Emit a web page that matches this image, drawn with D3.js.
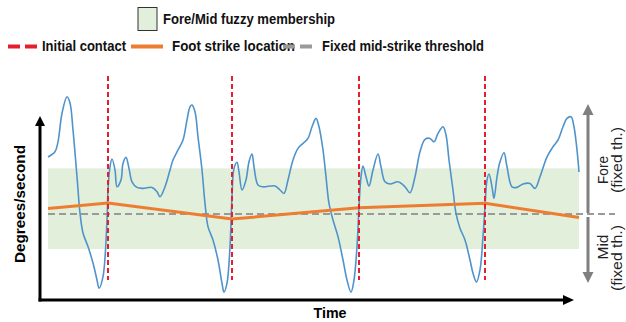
<!DOCTYPE html>
<html>
<head>
<meta charset="utf-8">
<script src="https://cdn.jsdelivr.net/npm/d3@7/dist/d3.min.js"></script>
<style>
  html, body { margin: 0; padding: 0; background: #fff; }
  svg { display: block; font-family: "Liberation Sans", Arial, sans-serif; }
</style>
</head>
<body>
<svg id="chart" width="626" height="322"></svg>
<script>
// Angular velocity trace (time in s, degrees/second)
const signalTime = [0.00,0.07,0.10,0.14,0.19,0.22,0.25,0.29,0.32,0.35,0.40,0.45,0.49,0.51,0.55,0.59,0.60,0.62,0.64,0.67,0.69,0.73,0.75,0.78,0.81,0.84,0.89,0.95,1.04,1.09,1.12,1.17,1.22,1.25,1.30,1.35,1.39,1.42,1.44,1.47,1.50,1.54,1.57,1.60,1.65,1.70,1.74,1.76,1.79,1.82,1.84,1.86,1.89,1.91,1.94,1.98,2.01,2.04,2.06,2.10,2.15,2.27,2.32,2.36,2.40,2.45,2.50,2.55,2.60,2.64,2.68,2.71,2.75,2.78,2.81,2.85,2.90,2.95,2.99,3.03,3.06,3.09,3.11,3.13,3.15,3.18,3.21,3.25,3.30,3.33,3.37,3.42,3.50,3.57,3.62,3.67,3.72,3.77,3.82,3.86,3.90,3.95,3.98,4.01,4.05,4.08,4.12,4.17,4.22,4.25,4.285,4.32,4.35,4.37,4.39,4.41,4.44,4.46,4.49,4.52,4.56,4.59,4.64,4.69,4.75,4.82,4.87,4.92,4.99,5.05,5.10,5.15,5.19,5.23,5.26,5.29,5.31];
const signalValue = [285,311,361,503,586,555,420,186,5,-95,-163,-245,-330,-371,-313,-30,120,236,275,220,136,170,253,283,228,161,133,128,133,111,86,136,220,270,320,370,470,536,545,511,386,220,53,-63,-130,-230,-346,-391,-346,-163,86,228,258,211,120,170,261,300,236,145,136,140,120,103,170,270,328,353,378,436,478,436,320,186,53,-30,-113,-230,-330,-391,-330,-163,36,186,240,186,140,220,300,236,161,150,161,136,106,186,311,373,378,361,403,436,395,270,120,3,-71,-130,-230,-296,-340,-280,-113,36,170,200,136,78,186,261,306,236,136,133,150,153,128,186,286,336,370,436,478,486,436,320,210];

// Initial contact events (s)
const contactTimes = [0.60, 1.84, 3.11, 4.37];

// Foot strike location, evaluated at the trace ends and at each contact
const strikeTime = [0.00, 0.60, 1.84, 3.11, 4.37, 5.31];
const strikeValue = [28, 55, -25, 31, 54, -18];

// Fixed mid-strike threshold and the fuzzy Fore/Mid band
const thresholdValue = [0];
const bandLow = [-175];
const bandHigh = [228];

const legendLabels = ["Fore/Mid fuzzy membership", "Initial contact", "Foot strike location", "Fixed mid-strike threshold"];
const axisLabels = ["Degrees/second", "Time"];
const sideLabels = ["Fore", "Mid", "(fixed th.)"];

const colors = { signal: "#4f93cc", contact: "#e5202e", strike: "#ed7d31", threshold: "#9a9a9a", band: "#e2efda", axis: "#000", side: "#7f7f7f" };

const svg = d3.select("#chart");
const x = d3.scaleLinear().domain([0, 5.31]).range([48, 579]);
const y = d3.scaleLinear().domain([-430, 570]).range([300, 100]);

// Fuzzy membership band
svg.append("rect")
  .attr("x", x(0)).attr("width", x(5.31) - x(0))
  .attr("y", y(bandHigh[0])).attr("height", y(bandLow[0]) - y(bandHigh[0]))
  .attr("fill", colors.band);

// Threshold
svg.append("line")
  .attr("x1", x(0)).attr("x2", x(5.67))
  .attr("y1", y(thresholdValue[0])).attr("y2", y(thresholdValue[0]))
  .attr("stroke", colors.threshold).attr("stroke-width", 2).attr("stroke-dasharray", "7,4");

// Signal trace
const signal = signalTime.map((t, i) => [t, signalValue[i]]);
svg.append("path")
  .datum(signal)
  .attr("fill", "none").attr("stroke", colors.signal).attr("stroke-width", 1.6)
  .attr("d", d3.line().x(d => x(d[0])).y(d => y(d[1])).curve(d3.curveCatmullRom.alpha(0.5)));

// Foot strike location
const strike = strikeTime.map((t, i) => [t, strikeValue[i]]);
svg.append("path")
  .datum(strike)
  .attr("fill", "none").attr("stroke", colors.strike).attr("stroke-width", 3)
  .attr("d", d3.line().x(d => x(d[0])).y(d => y(d[1])));

// Initial contacts
svg.selectAll(".contact").data(contactTimes).join("line")
  .attr("class", "contact")
  .attr("x1", d => x(d)).attr("x2", d => x(d))
  .attr("y1", y(690)).attr("y2", y(-330))
  .attr("stroke", colors.contact).attr("stroke-width", 2).attr("stroke-dasharray", "5,3");

// Axes with arrowheads
const ax0 = 40, ay0 = 300;
svg.append("line").attr("x1", ax0).attr("x2", ax0).attr("y1", ay0 + 1.5).attr("y2", 124)
  .attr("stroke", colors.axis).attr("stroke-width", 3);
svg.append("path").attr("d", `M${ax0 - 5},126 L${ax0},116 L${ax0 + 5},126 Z`).attr("fill", colors.axis);
svg.append("line").attr("x1", ax0 - 1.5).attr("x2", 565).attr("y1", ay0).attr("y2", ay0)
  .attr("stroke", colors.axis).attr("stroke-width", 3);
svg.append("path").attr("d", `M563,${ay0 - 5} L574,${ay0} L563,${ay0 + 5} Z`).attr("fill", colors.axis);

svg.append("text")
  .attr("transform", "translate(25,204) rotate(-90)")
  .attr("text-anchor", "middle")
  .attr("font-size", 14.5).attr("font-weight", "bold")
  .attr("textLength", 118).attr("lengthAdjust", "spacingAndGlyphs")
  .text(axisLabels[0]);
svg.append("text")
  .attr("x", 330).attr("y", 318)
  .attr("text-anchor", "middle")
  .attr("font-size", 14.5).attr("font-weight", "bold")
  .attr("textLength", 33).attr("lengthAdjust", "spacingAndGlyphs")
  .text(axisLabels[1]);

// Fore / Mid side arrows
const sx = x(5.40);
const yT = y(thresholdValue[0]);
svg.append("line").attr("x1", sx).attr("x2", sx).attr("y1", yT - 1).attr("y2", 113)
  .attr("stroke", colors.side).attr("stroke-width", 3);
svg.append("path").attr("d", `M${sx - 5.5},115 L${sx},104 L${sx + 5.5},115 Z`).attr("fill", colors.side);
svg.append("line").attr("x1", sx).attr("x2", sx).attr("y1", yT + 3).attr("y2", 274)
  .attr("stroke", colors.side).attr("stroke-width", 3);
svg.append("path").attr("d", `M${sx - 5.5},272 L${sx},283 L${sx + 5.5},272 Z`).attr("fill", colors.side);

const sideText = (label, cx, cy, len) => svg.append("text")
  .attr("transform", `translate(${cx},${cy}) rotate(-90)`)
  .attr("text-anchor", "middle")
  .attr("font-size", 14).attr("fill", "#222")
  .attr("textLength", len).attr("lengthAdjust", "spacingAndGlyphs")
  .text(label);
sideText(sideLabels[0], 608, 170, 28);
sideText(sideLabels[2], 622, 160, 66);
sideText(sideLabels[1], 608, 247, 25);
sideText(sideLabels[2], 622, 258, 66);

// Legend
const legend = svg.append("g").attr("font-size", 14.5).attr("font-weight", "bold").attr("fill", "#111");
legend.append("rect").attr("x", 138).attr("y", 7.5).attr("width", 19).attr("height", 23)
  .attr("fill", colors.band).attr("stroke", "#333").attr("stroke-width", 1);
legend.append("text").attr("x", 163).attr("y", 24)
  .attr("textLength", 172).attr("lengthAdjust", "spacingAndGlyphs").text(legendLabels[0]);

legend.append("line").attr("x1", 8).attr("x2", 37).attr("y1", 46.5).attr("y2", 46.5)
  .attr("stroke", colors.contact).attr("stroke-width", 4).attr("stroke-dasharray", "12,5");
legend.append("text").attr("x", 42).attr("y", 51)
  .attr("textLength", 84).attr("lengthAdjust", "spacingAndGlyphs").text(legendLabels[1]);

legend.append("line").attr("x1", 131).attr("x2", 163).attr("y1", 46.5).attr("y2", 46.5)
  .attr("stroke", colors.strike).attr("stroke-width", 4);
legend.append("text").attr("x", 172).attr("y", 51)
  .attr("textLength", 123).attr("lengthAdjust", "spacingAndGlyphs").text(legendLabels[2]);

legend.append("line").attr("x1", 283).attr("x2", 312).attr("y1", 46.5).attr("y2", 46.5)
  .attr("stroke", colors.threshold).attr("stroke-width", 4).attr("stroke-dasharray", "12,5");
legend.append("text").attr("x", 322).attr("y", 51)
  .attr("textLength", 162).attr("lengthAdjust", "spacingAndGlyphs").text(legendLabels[3]);
</script>
</body>
</html>
